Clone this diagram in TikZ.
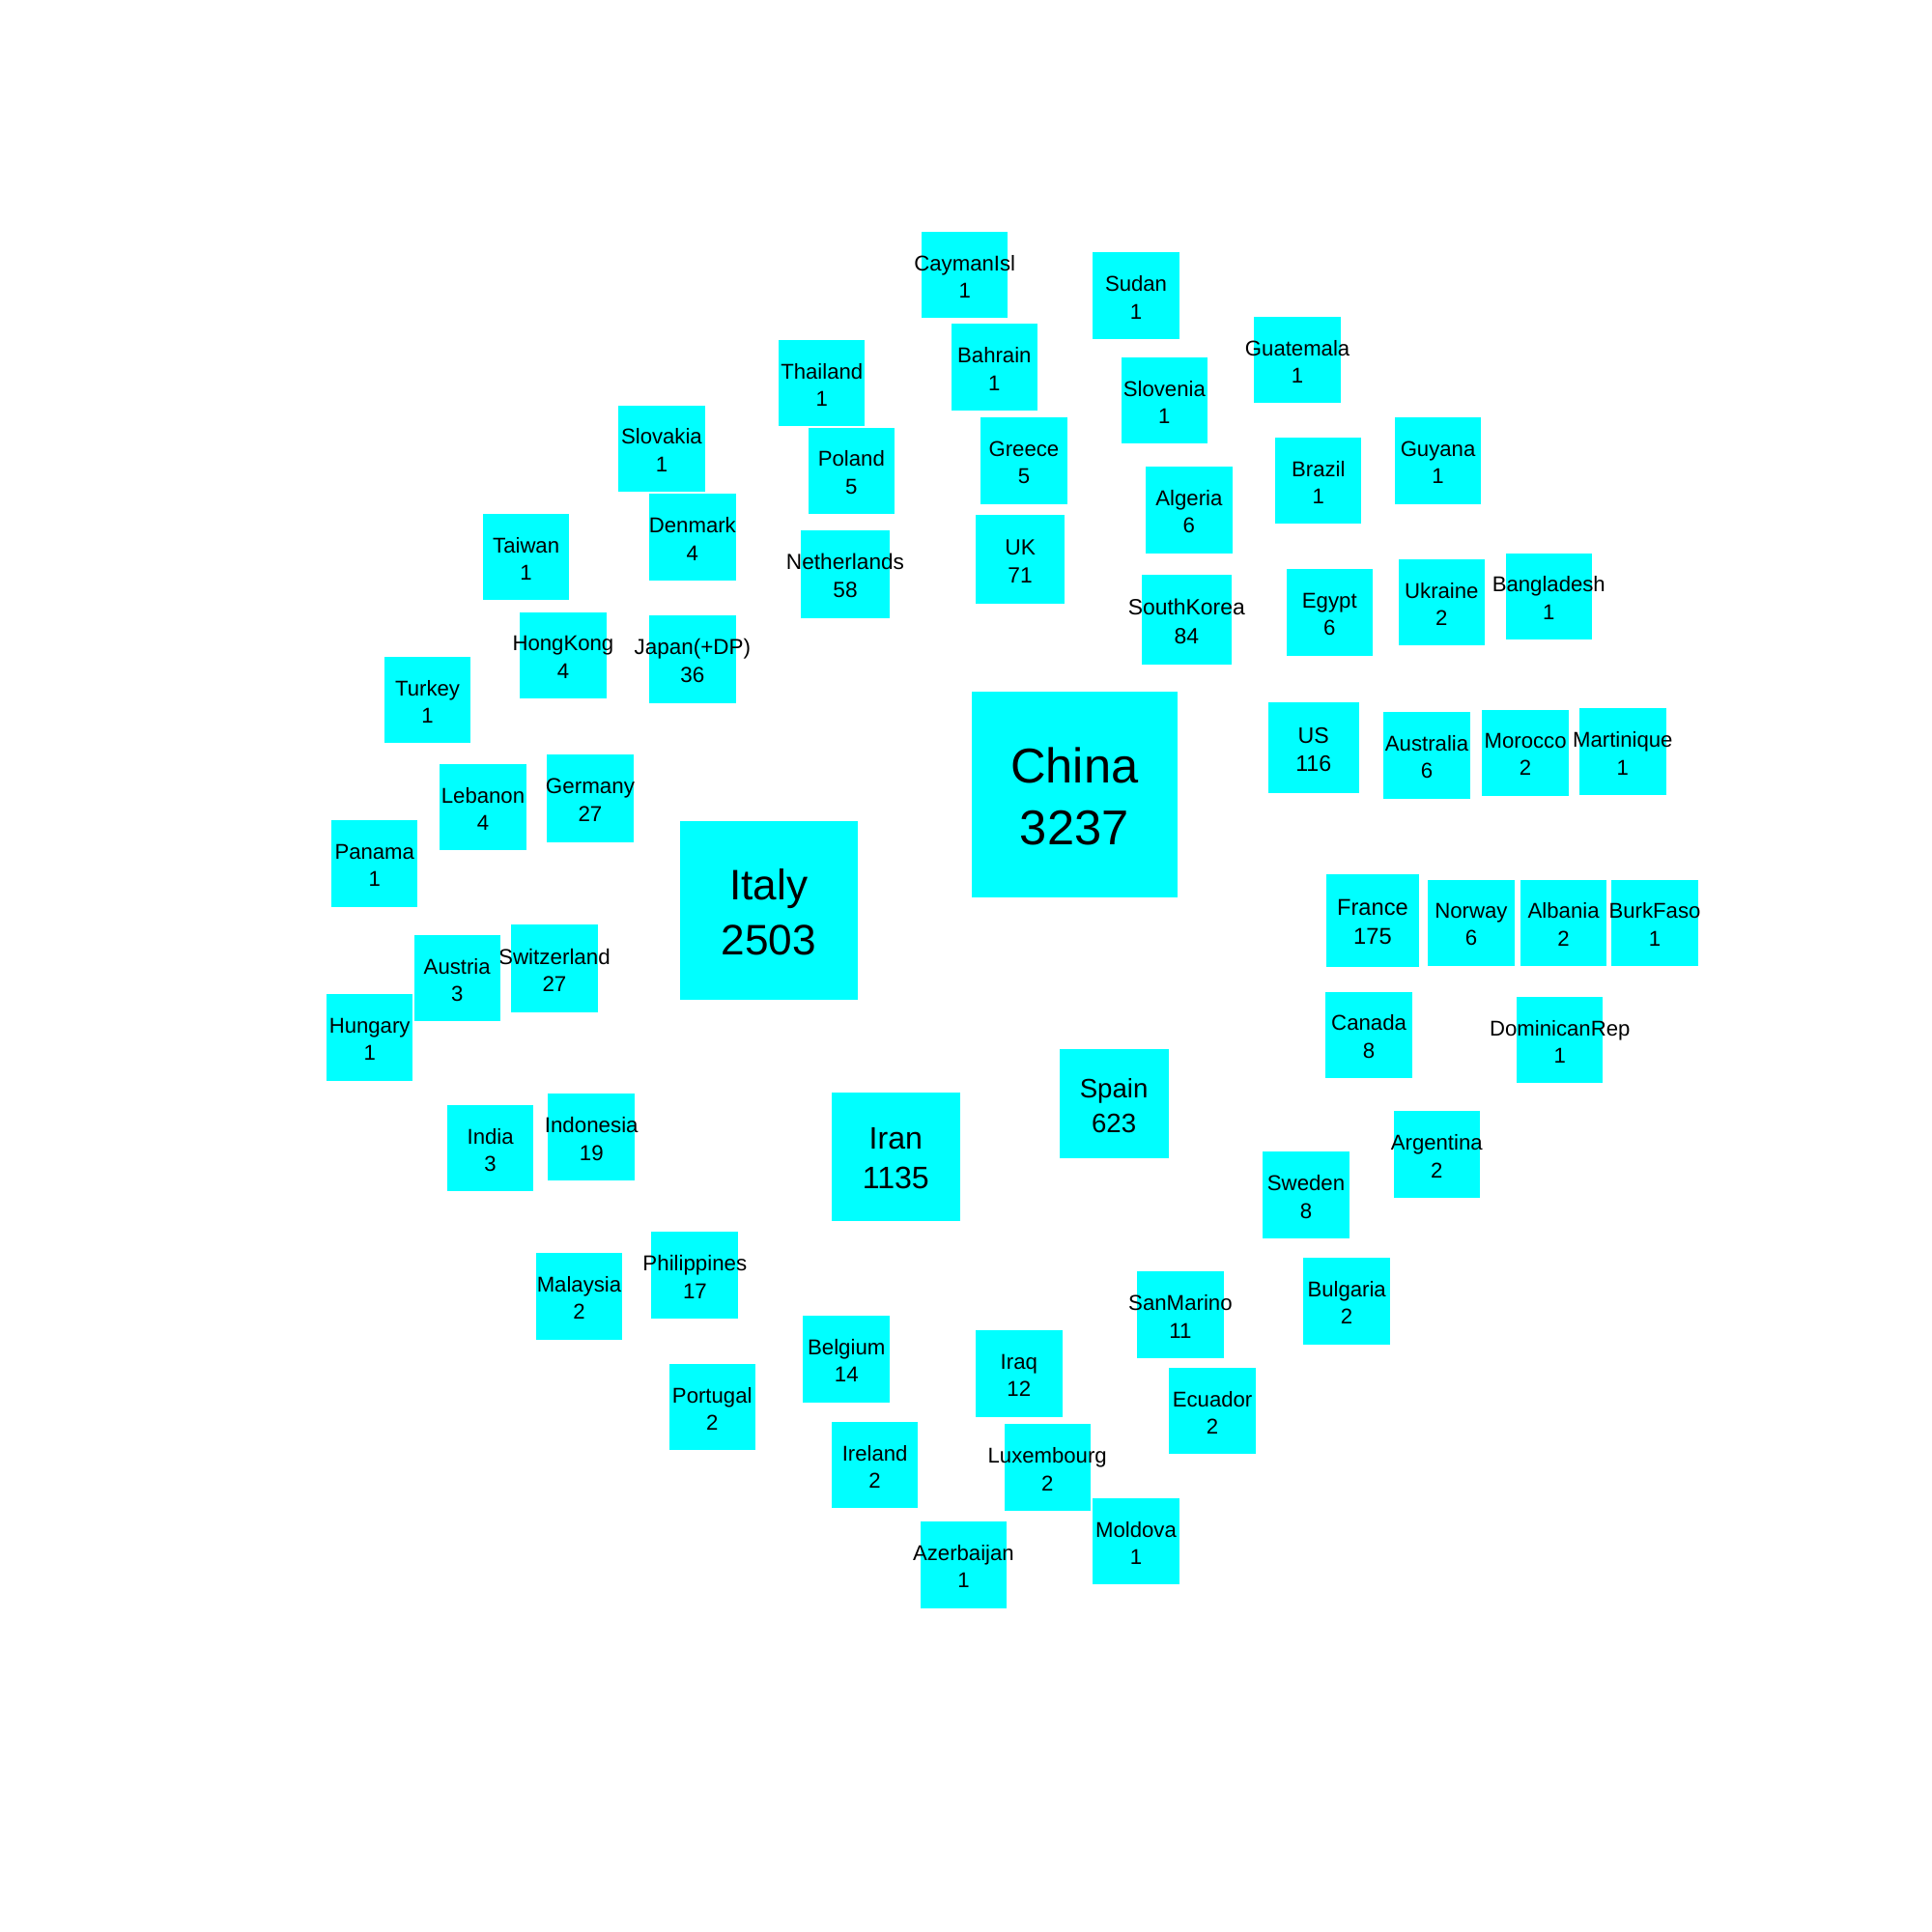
\documentclass[tikz,border=0pt]{standalone}
\usepackage{fontspec}
\setmainfont{Liberation Sans}
\usepackage{tikz}
\definecolor{boxcyan}{RGB}{0,255,255}

\begin{document}
\begin{tikzpicture}[x=0.012755cm,y=-0.012755cm,
    cbox/.style={fill=boxcyan, draw=none, inner sep=0pt, outer sep=0pt}]
    \useasboundingbox (0,0) rectangle (1568,1568);

    % #1 node name, #2 label, #3 x, #4 y, #5 count
    \def\country#1#2#3#4#5{
        \pgfmathsetmacro\boxside{0.893+0.000374*#5}
        \pgfmathsetmacro\boxfont{6.3+0.0025*#5}
        \pgfmathsetmacro\boxskip{1.28*\boxfont}
        \node[cbox, minimum size=\boxside cm] (#1) at (#3,#4) {};
        \node[font=\fontsize{\boxfont}{\boxskip}\selectfont, align=center, inner sep=0pt, yshift=-0.5pt] (#1-txt) at (#1) {#2\\#5};
    }

    \country{china}{China}{872}{645}{3237}
    \country{italy}{Italy}{624}{739}{2503}
    \country{iran}{Iran}{727}{939}{1135}
    \country{spain}{Spain}{904}{896}{623}
    \country{france}{France}{1114}{747}{175}
    \country{us}{US}{1066}{607}{116}
    \country{southkorea}{SouthKorea}{963}{503}{84}
    \country{uk}{UK}{828}{454}{71}
    \country{netherlands}{Netherlands}{686}{466}{58}
    \country{japan}{Japan(+DP)}{562}{535}{36}
    \country{germany}{Germany}{479}{648}{27}
    \country{switzerland}{Switzerland}{450}{786}{27}
    \country{indonesia}{Indonesia}{480}{923}{19}
    \country{philippines}{Philippines}{564}{1035}{17}
    \country{belgium}{Belgium}{687}{1103}{14}
    \country{iraq}{Iraq}{827}{1115}{12}
    \country{sanmarino}{SanMarino}{958}{1067}{11}
    \country{canada}{Canada}{1111}{840}{8}
    \country{sweden}{Sweden}{1060}{970}{8}

    % top
    \country{caymanisl}{CaymanIsl}{783}{223}{1}
    \country{sudan}{Sudan}{922}{240}{1}
    \country{bahrain}{Bahrain}{807}{298}{1}
    \country{guatemala}{Guatemala}{1053}{292}{1}
    \country{thailand}{Thailand}{667}{311}{1}
    \country{slovenia}{Slovenia}{945}{325}{1}
    \country{slovakia}{Slovakia}{537}{364}{1}
    \country{poland}{Poland}{691}{382}{5}
    \country{greece}{Greece}{831}{374}{5}
    \country{guyana}{Guyana}{1167}{374}{1}
    \country{brazil}{Brazil}{1070}{390}{1}
    \country{algeria}{Algeria}{965}{414}{6}
    \country{taiwan}{Taiwan}{427}{452}{1}
    \country{denmark}{Denmark}{562}{436}{4}
    \country{egypt}{Egypt}{1079}{497}{6}
    \country{ukraine}{Ukraine}{1170}{489}{2}
    \country{bangladesh}{Bangladesh}{1257}{484}{1}
    \country{hongkong}{HongKong}{457}{532}{4}

    % left
    \country{turkey}{Turkey}{347}{568}{1}
    \country{lebanon}{Lebanon}{392}{655}{4}
    \country{panama}{Panama}{304}{701}{1}
    \country{austria}{Austria}{371}{794}{3}
    \country{hungary}{Hungary}{300}{842}{1}
    \country{india}{India}{398}{932}{3}
    \country{malaysia}{Malaysia}{470}{1052}{2}
    \country{portugal}{Portugal}{578}{1142}{2}

    % right
    \country{australia}{Australia}{1158}{613}{6}
    \country{morocco}{Morocco}{1238}{611}{2}
    \country{martinique}{Martinique}{1317}{610}{1}
    \country{norway}{Norway}{1194}{749}{6}
    \country{albania}{Albania}{1269}{749}{2}
    \country{burkfaso}{BurkFaso}{1343}{749}{1}
    \country{dominicanrep}{DominicanRep}{1266}{844}{1}
    \country{argentina}{Argentina}{1166}{937}{2}
    \country{bulgaria}{Bulgaria}{1093}{1056}{2}

    % bottom
    \country{ecuador}{Ecuador}{984}{1145}{2}
    \country{ireland}{Ireland}{710}{1189}{2}
    \country{luxembourg}{Luxembourg}{850}{1191}{2}
    \country{moldova}{Moldova}{922}{1251}{1}
    \country{azerbaijan}{Azerbaijan}{782}{1270}{1}
\end{tikzpicture}
\end{document}
